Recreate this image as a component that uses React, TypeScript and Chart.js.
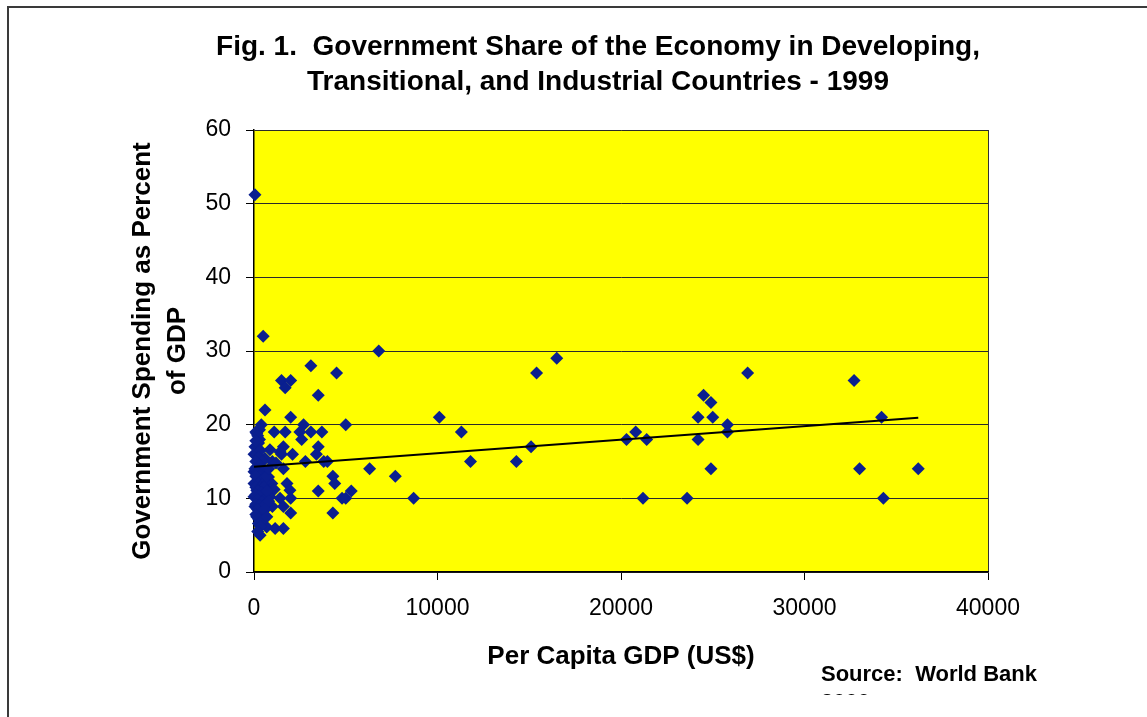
import React, { useEffect, useRef } from "react";
import { Chart, registerables } from "chart.js";

Chart.register(...registerables);

const titleLines = [
  "Fig. 1.  Government Share of the Economy in Developing,",
  "Transitional, and Industrial Countries - 1999",
];
const yTitleLines = ["Government Spending as Percent", "of GDP"];
const xTitle = "Per Capita GDP (US$)";
const sourceLines = ["Source:  World Bank", "2000"];

const xTicks = [0, 10000, 20000, 30000, 40000];
const yTicks = [0, 10, 20, 30, 40, 50, 60];

// Per capita GDP (US$) for each country
const gdp = [
  50, 500, 6800, 3100, 4500, 1500, 2000, 1700, 3500, 600,
  2000, 400, 5000, 2700, 1100, 1700, 2500, 3100, 3700, 300,
  150, 2600, 300, 1600, 3500, 50, 3400, 1500, 2100, 870,
  1420, 150, 0, 1000, 2800, 3800, 4000, 600, 1200, 150,
  1600, 6300, 0, 500, 790, 4300, 330, 0, 970, 1800,
  4400, 1100, 1960, 150, 5300, 3500, 500, 0, 870, 1420,
  2000, 4800, 5000, 330, 1000, 1600, 50, 420, 2000, 4300,
  150, 240, 690, 1150, 1600, 330,
  100, 200, 250, 100, 350, 250, 450, 100, 300, 50,
  400, 200, 300, 100, 450, 250, 600, 100, 350, 550,
  200, 400, 100, 300, 650, 200, 450, 100, 300, 550,
  200, 350, 100, 250, 450, 350, 200, 700, 800, 700,
  800, 600, 700,
  15400, 16500, 10100, 11300, 15100, 11800, 14300, 7700, 8700, 20300,
  20800, 21200, 21400, 23600, 26900, 24500, 24900, 24200, 25000, 25800,
  25800, 24200, 24900, 32700, 34200, 33000, 36200, 34300,
];

// Government spending as percent of GDP for each country
const spending = [
  51.2, 32, 30, 28, 27, 26, 26, 25, 24, 22,
  21, 20, 20, 20, 19, 19, 19, 19, 19, 19.3,
  18.8, 18, 18, 17, 17, 17, 16, 16, 16, 16.6,
  16.3, 16, 16, 15, 15, 15, 15, 15.4, 14.8, 14.3,
  14, 14, 13.6, 13.6, 12.9, 13, 12.5, 12, 12, 12,
  12, 11.2, 11.1, 11.1, 11, 11, 10.7, 10.2, 10.2, 10,
  10, 10, 10, 9.5, 8.9, 8.9, 8.9, 8.2, 8, 8,
  7.5, 6.6, 6.1, 5.9, 5.9, 5,
  19, 18.5, 17.5, 17.8, 16.5, 15.5, 15, 15, 14.5, 14,
  14, 13.5, 13, 13, 12.5, 12, 12.2, 11.5, 11.5, 11.5,
  11, 10.8, 10.5, 10.3, 10, 9.8, 9.5, 9.2, 9, 9,
  8.5, 8, 7.8, 7.2, 7, 6.2, 5.5, 13, 14, 11,
  9.6, 8.5, 7.5,
  27, 29, 21, 19, 17, 15, 15, 13, 10, 18,
  19, 10, 18, 10, 27, 24, 23, 21, 21, 20,
  19, 18, 14, 26, 21, 14, 14, 10,
];

const trendGdp = [0, 36200];
const trendSpending = [14.3, 20.95];

const FONT = "'Liberation Sans', Arial, Helvetica, sans-serif";

const backgroundPlugin = {
  id: "bgPlugin",
  beforeDraw(chart: any) {
    const { ctx, chartArea, width, height } = chart;
    ctx.save();
    ctx.fillStyle = "#ffffff";
    ctx.fillRect(0, 0, width, height);
    ctx.fillStyle = "#ffff00";
    ctx.fillRect(
      chartArea.left,
      chartArea.top,
      chartArea.right - chartArea.left,
      chartArea.bottom - chartArea.top
    );
    ctx.restore();
  },
};

export default function App() {
  const canvasRef = useRef<HTMLCanvasElement | null>(null);

  useEffect(() => {
    if (!canvasRef.current) return;
    const points = gdp.map((x, i) => ({ x, y: spending[i] }));
    const trend = trendGdp.map((x, i) => ({ x, y: trendSpending[i] }));

    const chart = new Chart(canvasRef.current, {
      type: "scatter",
      data: {
        datasets: [
          {
            label: "Trend",
            data: trend,
            showLine: true,
            borderColor: "#000000",
            borderWidth: 2,
            pointRadius: 0,
            fill: false,
          },
          {
            label: "Countries",
            data: points,
            pointStyle: "rectRot",
            pointRadius: 6.5,
            pointBorderWidth: 0,
            backgroundColor: "#0a1f8f",
            borderColor: "#0a1f8f",
            clip: false,
          } as any,
        ],
      },
      options: {
        responsive: false,
        animation: false,
        events: [],
        layout: { padding: { left: 49, right: 0, top: 0, bottom: 0 } },
        plugins: {
          legend: { display: false },
          tooltip: { enabled: false },
          title: {
            display: true,
            text: titleLines,
            color: "#000000",
            font: { family: FONT, size: 28, weight: "bold", lineHeight: 1.25 },
            padding: { top: 29.5, bottom: 30.5 },
          },
        },
        scales: {
          x: {
            type: "linear",
            position: "bottom",
            min: xTicks[0],
            max: xTicks[xTicks.length - 1],
            afterBuildTicks: (s: any) => {
              s.ticks = xTicks.map((v) => ({ value: v }));
            },
            afterFit: (s: any) => {
              s.height = 145;
            },
            ticks: {
              color: "#000000",
              font: { family: FONT, size: 23 },
              padding: 15,
              maxRotation: 0,
              callback: (v: any) => String(v),
            },
            grid: {
              drawOnChartArea: true,
              drawTicks: true,
              tickLength: 8,
              tickColor: "#000000",
              color: (c: any) =>
                c.tick && c.tick.value === xTicks[xTicks.length - 1]
                  ? "#333333"
                  : "rgba(0,0,0,0)",
            },
            border: { display: true, color: "#000000", width: 1.5 },
            title: {
              display: true,
              text: xTitle,
              color: "#000000",
              font: { family: FONT, size: 26, weight: "bold", lineHeight: 1.2 },
              padding: { top: 0, bottom: 45 },
            },
          },
          y: {
            type: "linear",
            position: "left",
            min: yTicks[0],
            max: yTicks[yTicks.length - 1],
            afterBuildTicks: (s: any) => {
              s.ticks = yTicks.map((v) => ({ value: v }));
            },
            afterFit: (s: any) => {
              s.width = 205;
            },
            ticks: {
              color: "#000000",
              font: { family: FONT, size: 23 },
              padding: 15,
            },
            grid: {
              drawOnChartArea: true,
              drawTicks: true,
              tickLength: 8,
              tickColor: "#000000",
              color: "#2a2a2a",
              lineWidth: 1,
            },
            border: { display: true, color: "#000000", width: 1.5 },
            title: {
              display: true,
              text: yTitleLines,
              color: "#000000",
              font: { family: FONT, size: 26, weight: "bold", lineHeight: 1.35 },
              padding: { top: 76, bottom: 0 },
            },
          },
          yRight: {
            type: "linear",
            position: "right",
            display: true,
            grid: { display: false },
            ticks: { display: false },
            border: { display: false },
            afterFit: (s: any) => {
              s.width = 159;
            },
          },
        },
      } as any,
      plugins: [backgroundPlugin],
    });

    return () => {
      chart.destroy();
    };
  }, []);

  return (
    <div
      style={{
        position: "absolute",
        left: 0,
        top: 0,
        width: 1147,
        height: 717,
        overflow: "hidden",
        background: "#ffffff",
      }}
    >
      <canvas
        ref={canvasRef}
        width={1147}
        height={717}
        style={{ position: "absolute", left: 0, top: 0, width: 1147, height: 717 }}
      />
      <div
        style={{
          position: "absolute",
          left: 7,
          top: 6,
          width: 1180,
          height: 780,
          border: "2px solid #3a3a3a",
          pointerEvents: "none",
          boxSizing: "border-box",
        }}
      />
      <div
        style={{
          position: "absolute",
          left: 821,
          top: 659.5,
          height: 35,
          overflow: "hidden",
          fontFamily: FONT,
          fontWeight: "bold",
          fontSize: 22,
          lineHeight: "28px",
          color: "#000000",
          whiteSpace: "pre",
        }}
      >
        {sourceLines.map((l, i) => (
          <div key={i}>{l}</div>
        ))}
      </div>
    </div>
  );
}
